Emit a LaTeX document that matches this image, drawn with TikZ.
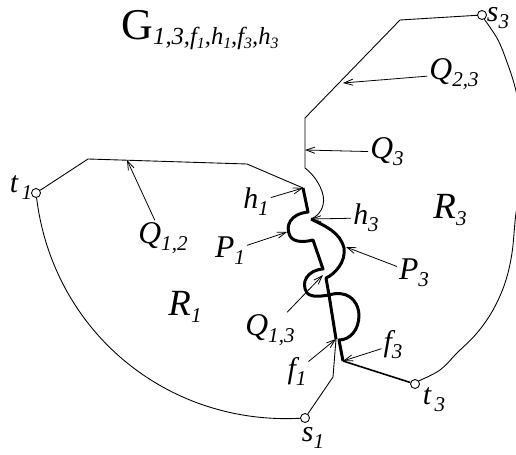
\documentclass[tikz,border=0pt]{standalone}
\usepackage{fontspec}
\setmainfont{Liberation Serif}
\usetikzlibrary{arrows.meta}

% index macros: one level and a nested level
\newcommand{\ix}[2]{#1\raisebox{-4pt}{\fontsize{12}{12}\selectfont #2}}
\newcommand{\iix}[2]{#1\raisebox{-2.5pt}{\fontsize{9}{9}\selectfont #2}}

\begin{document}
\begin{tikzpicture}[x=0.02cm, y=0.02cm,
    term/.style={circle, draw, line width=0.5pt, inner sep=0pt, minimum size=0.18cm},
    lab/.style={font=\fontsize{18}{20}\selectfont\itshape, inner sep=1pt},
    blab/.style={font=\fontsize{21}{23}\selectfont\itshape, inner sep=1pt},
    slab/.style={font=\fontsize{17}{19}\selectfont\itshape, inner sep=1pt},
    ptr/.style={-{Straight Barb[length=5pt,width=3.5pt]}, line width=0.45pt},
    thinline/.style={line width=0.5pt, line join=round},
    ppath/.style={line width=1.7pt, line join=round}]
    \useasboundingbox (0,0) rectangle (516,-455);

    % terminals
    \node[term] (t1) at (36,-193) {};
    \node[term] (s1) at (305,-418) {};
    \node[term] (t3) at (415,-384) {};
    \node[term] (s3) at (482,-15) {};

    \coordinate (h1) at (303,-188);
    \coordinate (h3) at (311,-219);
    \coordinate (f1) at (336,-339);
    \coordinate (f3) at (343,-361);

    % outer face
    \draw[thinline] (t1) to[out=-83, in=183] (s1);
    \draw[thinline] plot[smooth, tension=0.6] coordinates {(s3.-62) (498,-40) (508,-65)
        (515,-87) (521,-115) (524,-140) (525,-155) (524,-172) (521,-195) (516,-213)
        (512,-253) (505,-283) (493,-310) (477,-333) (457,-353) (440,-370) (t3.40)};

    % Q paths
    \draw[thinline] (t1) -- (88,-159) -- (247,-164) -- (h1);
    \draw[thinline] (s3) -- (400,-20) -- (305,-118) -- (305,-168)
        .. controls (318,-178) and (326,-195) .. (323,-205)
        .. controls (321,-213) and (316,-217) .. (h3);
    \draw[thinline] (s1) -- (333,-377) -- (f1);
    \draw[line width=0.9pt] (f3) -- (t3);

    % P_1
    \draw[ppath] (h1) -- (308,-212)
        .. controls (290,-214) and (285,-226) .. (290,-236)
        .. controls (294,-243) and (305,-242) .. (313,-240)
        -- (323,-269)
        .. controls (308,-270) and (300,-282) .. (307,-293)
        .. controls (312,-298) and (322,-296) .. (329,-295)
        -- (f1);
    % P_3
    \draw[ppath] (h3)
        .. controls (325,-226) and (340,-232) .. (344,-248)
        .. controls (346,-262) and (335,-274) .. (326,-278)
        -- (329,-295)
        .. controls (345,-290) and (358,-298) .. (359,-315)
        .. controls (359,-330) and (350,-340) .. (339,-340)
        -- (f3);

    % labels
    \node[font=\fontsize{25}{27}\selectfont, inner sep=1pt] (G) at (200,-30)
        {G\raisebox{-3pt}{\fontsize{14}{14}\selectfont\itshape 1,3,\iix{f}{1},\iix{h}{1},\iix{f}{3},\iix{h}{3}}};
    \node[lab] (lQ23) at (454,-74) {\ix{Q}{2,3}};
    \node[lab] (lQ3) at (387,-152) {\ix{Q}{3}};
    \node[lab] (lQ12) at (163,-238) {\ix{Q}{1,2}};
    \node[lab] (lQ13) at (270,-330) {\ix{Q}{1,3}};
    \node[lab] (lP1) at (230,-251) {\ix{P}{1}};
    \node[lab] (lP3) at (414,-273) {\ix{P}{3}};
    \node[blab] (lR1) at (185,-307) {\ix{R}{1}};
    \node[blab] (lR3) at (450,-210) {\ix{R}{3}};
    \node[slab] (lh1) at (256,-202) {\ix{h}{1}};
    \node[slab] (lh3) at (366,-218) {\ix{h}{3}};
    \node[slab] (lf1) at (297,-371) {\ix{f}{1}};
    \node[slab] (lf3) at (393,-345) {\ix{f}{3}};
    \node[slab] (lt1) at (21,-188) {\ix{t}{\,1}};
    \node[slab] (ls1) at (313,-438) {\ix{s}{1}};
    \node[slab] (lt3) at (434,-400) {\ix{t}{\,3}};
    \node[slab, inner sep=0pt] (ls3) at (498,-18) {\ix{s}{3}};

    % pointers
    \coordinate (q23tip) at (343,-83);
    \coordinate (q3tip) at (305,-150);
    \coordinate (q12tip) at (127,-160);
    \coordinate (q13tip) at (323,-275);
    \coordinate (p1tip) at (287,-232);
    \coordinate (p3tip) at (346,-247);

    \draw[ptr] (lQ23) -- (q23tip);
    \draw[ptr] (lQ3) -- (q3tip);
    \draw[ptr] (lQ12) -- (q12tip);
    \draw[ptr] (lQ13) -- (q13tip);
    \draw[ptr] (lP1) -- (p1tip);
    \draw[ptr] (lP3) -- (p3tip);
    \draw[ptr] (lh1) -- (h1);
    \draw[ptr] (lh3) -- (h3);
    \draw[ptr] (lf1) -- (f1);
    \draw[ptr] (lf3) -- (f3);
\end{tikzpicture}
\end{document}
